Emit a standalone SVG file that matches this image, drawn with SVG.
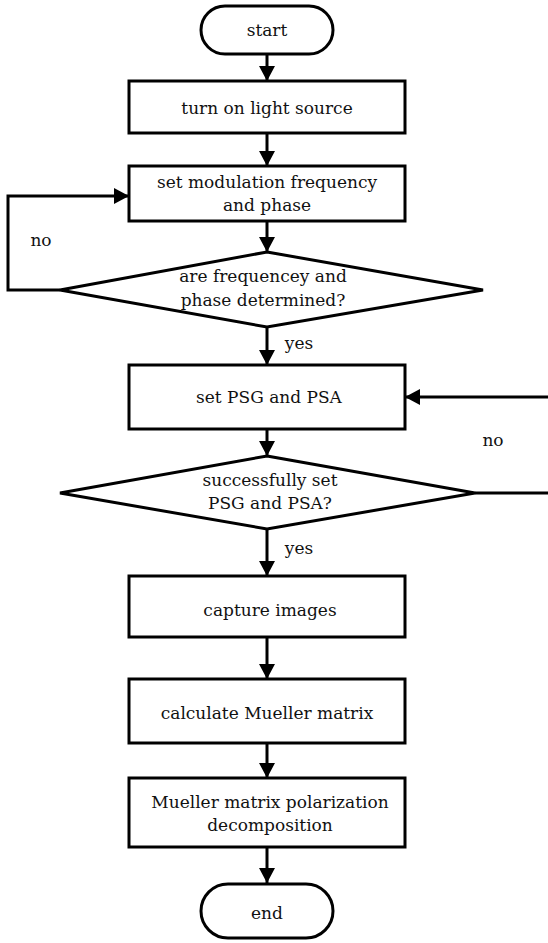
<svg xmlns="http://www.w3.org/2000/svg" width="548" height="943" viewBox="0 0 548 943">
<style>
.shape{fill:#fff;stroke:#000;stroke-width:3}
.conn{fill:none;stroke:#000;stroke-width:3}
text{font-family:"DejaVu Serif","Liberation Serif",serif;font-size:17px;fill:#111;text-anchor:middle}
</style>
<defs>
<marker id="ah" markerUnits="userSpaceOnUse" markerWidth="16" markerHeight="18" refX="15" refY="8" orient="auto">
<path d="M0,0 L15,8 L0,16 Z" fill="#000"/>
</marker>
</defs>
<rect width="548" height="943" fill="#fff"/>
<g id="connectors">
<line class="conn" x1="267" y1="54" x2="267" y2="81" marker-end="url(#ah)"/>
<line class="conn" x1="267" y1="133" x2="267" y2="166" marker-end="url(#ah)"/>
<line class="conn" x1="267" y1="221" x2="267" y2="252" marker-end="url(#ah)"/>
<line class="conn" x1="267" y1="327" x2="267" y2="365" marker-end="url(#ah)"/>
<line class="conn" x1="267" y1="429" x2="267" y2="456" marker-end="url(#ah)"/>
<line class="conn" x1="267" y1="529" x2="267" y2="576" marker-end="url(#ah)"/>
<line class="conn" x1="267" y1="637" x2="267" y2="679" marker-end="url(#ah)"/>
<line class="conn" x1="267" y1="743" x2="267" y2="778" marker-end="url(#ah)"/>
<line class="conn" x1="267" y1="847" x2="267" y2="883" marker-end="url(#ah)"/>
<polyline class="conn" points="60,290 8,290 8,196 129,196" marker-end="url(#ah)"/>
<polyline class="conn" points="475,493 552,493 552,397 405,397" marker-end="url(#ah)"/>
<text x="41" y="246">no</text>
<text x="493" y="446">no</text>
<text x="299" y="349">yes</text>
<text x="299" y="554">yes</text>
</g>
<g id="start"><rect class="shape" x="201" y="6" width="132" height="48" rx="24"/><text x="267" y="36">start</text></g>
<g id="light"><rect class="shape" x="129" y="81" width="276" height="52"/><text x="267" y="114">turn on light source</text></g>
<g id="modulation"><rect class="shape" x="129" y="166" width="276" height="55"/><text x="267" y="188">set modulation frequency</text><text x="267" y="211">and phase</text></g>
<g id="decision1"><polygon class="shape" points="267,252 483,290 267,327 60,290"/><text x="263" y="282">are frequencey and</text><text x="263" y="306">phase determined?</text></g>
<g id="psg"><rect class="shape" x="129" y="365" width="276" height="64"/><text x="269" y="403">set PSG and PSA</text></g>
<g id="decision2"><polygon class="shape" points="267,456 475,493 267,529 60,493"/><text x="270" y="486">successfully set</text><text x="270" y="509">PSG and PSA?</text></g>
<g id="capture"><rect class="shape" x="129" y="576" width="276" height="61"/><text x="270" y="616">capture images</text></g>
<g id="calculate"><rect class="shape" x="129" y="679" width="276" height="64"/><text x="267" y="719">calculate Mueller matrix</text></g>
<g id="decomp"><rect class="shape" x="129" y="778" width="276" height="69"/><text x="270" y="808">Mueller matrix polarization</text><text x="270" y="831">decomposition</text></g>
<g id="end"><rect class="shape" x="201" y="884" width="132" height="54" rx="27"/><text x="267" y="919">end</text></g>
</svg>
